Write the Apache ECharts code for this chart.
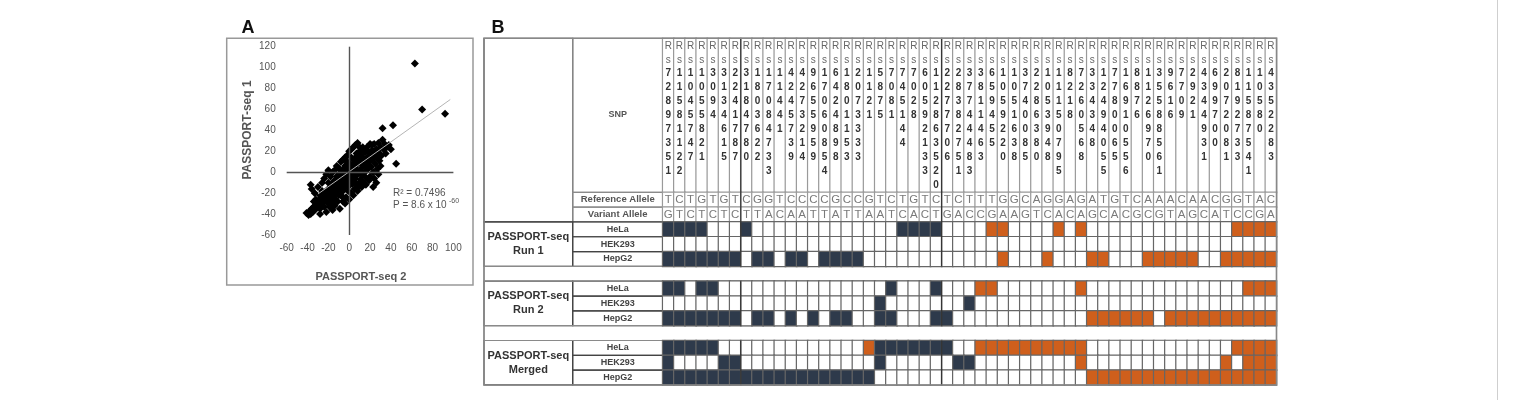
<!DOCTYPE html>
<html><head><meta charset="utf-8">
<script src="https://cdn.jsdelivr.net/npm/echarts@6.0.0/dist/echarts.min.js"></script>
<style>html,body{margin:0;padding:0;background:#fff}#c{width:1519px;height:400px}</style>
</head><body><div id="c"></div>
<script>
// ---------- Panel A data ----------
const scatterPoints = [
[-41,-39],[-39,-41],[-38,-37],[-37,-40],[-36,-35],[-35,-38],[-34,-33],[-33,-36],[-32,-31],[-31,-34],[-30,-29],[-29,-32],[-28,-27],[-28,-35],[-27,-24],[-26,-30],[-25,-22],[-24,-27],[-24,-33],[-23,-19],[-22,-25],[-21,-29],[-20,-16],[-20,-22],[-19,-33],[-18,-19],[-18,-26],[-17,-12],[-16,-22],[-16,-30],[-15,-17],[-14,-8],[-14,-25],[-13,-13],[-12,-20],[-12,-4],[-11,-28],[-10,-10],[-10,-16],[-9,-35],[-9,-1],[-8,-6],[-8,-22],[-7,-13],[-6,2],[-6,-18],[-6,-28],[-5,-8],[-4,-2],[-4,-14],[-4,6],[-3,-24],[-2,-10],[-2,2],[-1,-5],[-1,-18],[0,9],[0,-1],[0,-13],[1,-7],[1,4],[2,-20],[2,14],[3,-3],[3,-11],[4,7],[4,0],[5,-16],[5,11],[6,-6],[6,3],[7,18],[7,-11],[8,8],[8,-2],[9,13],[9,-14],[10,2],[10,20],[11,-7],[11,9],[12,15],[12,-3],[13,24],[13,5],[14,-10],[14,11],[15,19],[15,0],[16,7],[16,-5],[17,14],[17,24],[18,3],[18,20],[19,-8],[19,10],[20,16],[20,27],[21,5],[22,21],[22,12],[23,-14],[23,0],[24,17],[24,27],[25,8],[26,22],[26,14],[27,3],[28,19],[28,28],[29,11],[30,24],[31,16],[32,31],[32,42],[33,22],[34,27],[35,18],[36,24],[38,26],[40,22],[42,45],[45,8],[63,104],[70,60],[92,56],
[-30,-14],[-26,-10],[-24,-6],[-22,-2],[-20,2],[-18,-4],[-16,0],[-14,2],[-12,6],[-10,4],[-8,10],[-6,12],[-4,14],[-2,16],[0,20],[2,22],[4,24],[6,26],[8,28],[10,24],[-37,-12],[-36,-16],[-33,-20],
[-28,-40],[-22,-38],[-16,-36],[-14,-32],[-4,-30],[0,-26],[4,-22],[8,-18],[12,-14],[16,-12],[20,-4],[24,-6],[28,-2],[30,6],[26,-10],
[-8,-10],[-6,-4],[-2,-6],[2,-2],[4,-6],[6,-10],[-10,-6],[-12,-10],[-14,-14],[-4,0],[2,6],[8,2],[10,-10],[-16,-10],[-20,-10],[-18,-14],[-22,-18],[-26,-18],[-28,-22],[-32,-26],[-34,-28],[0,4],[-2,10],[6,14],[10,16],[14,20],[18,8],[22,26],[-6,-24],[-10,-22],[-14,-20]
];
const trendLine = [[-30,-20.8],[97,69.5]];
const statR2 = 'R² = 0.7496';
const statP = 'P = 8.6 x 10';
const statPExp = '-60';

// ---------- Panel B data ----------
const snpIds = ['rs72897351','rs11581122','rs1045747','rs1055821','rs3094','rs3134615','rs2241787','rs3184780','rs1803622','rs17084733',
'rs11441','rs4245739','rs4273214','rs9655959','rs17060854','rs6424898','rs1801153','rs2073333','rs1121','rs5875',
'rs7081','rs745144','rs7028','rs60592133','rs112863520','rs2277706','rs28382751','rs37744483','rs3811463','rs659455',
'rs1059220','rs1051638','rs3740085','rs2286380','rs1053948','rs11150795','rs8218','rs7260568','rs334348','rs12494055',
'rs7780065','rs16910556','rs8876','rs1126970','rs35588561','rs9616','rs7709','rs2921','rs4344931','rs699700',
'rs2072081','rs8192733','rs11587541','rs10580','rs4352283'];
const refAlleles = 'TCTGTGTCGGTCCCCGCCGTCTGTCTCTTTGGCAGGAGATGTCAAACAACGGTAC'.split('');
const varAlleles = 'GTCTCTCTTACAATTATTAATCACTGACCGAAGTCACAGCACGCGTAGCATCCGA'.split('');
const cellLines = ['HeLa','HEK293','HepG2'];
const groupNames = ['PASSPORT-seq\nRun 1','PASSPORT-seq\nRun 2','PASSPORT-seq\nMerged'];
// 0 = none, 1 = dark (blue), 2 = orange
const run1HeLa   = [1,1,1,1,0,0,0,1,0,0, 0,0,0,0,0,0,0,0,0,0, 0,1,1,1,1,0,0,0,0,2, 2,0,0,0,0,2,0,2,0,0, 0,0,0,0,0,0,0,0,0,0, 0,2,2,2,2];
const run1HEK293 = [0,0,0,0,0,0,0,0,0,0, 0,0,0,0,0,0,0,0,0,0, 0,0,0,0,0,0,0,0,0,0, 0,0,0,0,0,0,0,0,0,0, 0,0,0,0,0,0,0,0,0,0, 0,0,0,0,0];
const run1HepG2  = [1,1,1,1,1,1,1,0,1,1, 0,1,1,0,1,1,1,1,0,0, 0,0,0,0,0,0,0,0,0,0, 2,0,0,0,2,0,0,0,2,2, 0,0,0,2,2,2,2,2,0,0, 2,2,2,2,2];
const run2HeLa   = [1,1,0,1,1,0,0,0,0,0, 0,0,0,0,0,0,0,0,0,0, 1,0,0,0,1,0,0,0,2,2, 0,0,0,0,0,0,0,2,0,0, 0,0,0,0,0,0,0,0,0,0, 0,0,2,2,2];
const run2HEK293 = [0,0,0,0,0,0,0,0,0,0, 0,0,0,0,0,0,0,0,0,1, 0,0,0,0,0,0,0,1,0,0, 0,0,0,0,0,0,0,0,0,0, 0,0,0,0,0,0,0,0,0,0, 0,0,0,0,0];
const run2HepG2  = [1,1,1,1,1,1,1,0,1,1, 0,1,0,1,0,1,1,0,0,1, 1,0,0,0,1,1,0,0,0,0, 0,0,0,0,0,0,0,0,2,2, 2,2,2,2,0,2,2,2,2,2, 2,2,2,2,2];
const mergedHeLa   = [1,1,1,1,1,0,0,0,0,0, 0,0,0,0,0,0,0,0,2,1, 1,1,1,1,1,1,0,0,2,2, 2,2,2,2,2,2,2,2,0,0, 0,0,0,0,0,0,0,0,0,0, 0,2,2,2,2];
const mergedHEK293 = [1,0,0,0,0,1,1,0,0,0, 0,0,0,0,0,0,0,0,0,1, 0,0,0,0,0,0,1,1,0,0, 0,0,0,0,0,0,0,2,0,0, 0,0,0,0,0,0,0,0,0,0, 2,0,2,2,2];
const mergedHepG2  = [1,1,1,1,1,1,1,1,1,1, 1,1,1,1,1,1,1,1,1,0, 0,0,0,0,0,0,0,0,0,0, 0,0,0,0,0,0,0,0,2,2, 2,2,2,2,2,2,2,2,2,2, 2,2,2,2,2];

// ---------- layout (positions only) ----------
const FONT = '"Liberation Sans", Arial, sans-serif';
const T = {c1:484, c2:572.7, left:662.7, colW:11.16, top:38.3, headH:154, rowH:14.82, nRows:13};
T.right = T.left + snpIds.length * T.colW;
T.bodyTop = T.top + T.headH;
T.bottom = T.bodyTop + T.nRows * T.rowH;
const rowTop = i => T.bodyTop + i * T.rowH;

// body row layout: 0 ref,1 var,2-4 run1,5 gap,6-8 run2,9 gap,10-12 merged
const bodyRowKeys = ['ref','var','r1a','r1b','r1c','g1','r2a','r2b','r2c','g2','r3a','r3b','r3c'];
const statusRows = [[2,run1HeLa],[3,run1HEK293],[4,run1HepG2],[6,run2HeLa],[7,run2HEK293],[8,run2HepG2],[10,mergedHeLa],[11,mergedHEK293],[12,mergedHepG2]];

const headerData = snpIds.map((_, i) => [i, 0, 0]);
const alleleData = [];
snpIds.forEach((_, i) => { alleleData.push([i, 0, 0]); alleleData.push([i, 1, 0]); });
const statusData = [];
statusRows.forEach(([r, arr]) => arr.forEach((v, i) => statusData.push([i, r, v])));

const headerFormatter = p => {
  const id = snpIds[p.data[0]];
  return id.split('').map((ch, k) => k === 0 ? '{r|R}' : k === 1 ? '{r|s}' : '{d|' + ch + '}').join('\n');
};

// ---------- graphics for table label columns ----------
const g = [];
const gray = '#8a8a8a', dark = '#444';
function rect(x, y, w, h, stroke, lw, z) {
  g.push({type:'rect', z: z || 1, shape:{x, y, width:w, height:h}, style:{fill:'none', stroke, lineWidth: lw || 1}});
}
function text(t, x, y, font, fill, extra) {
  g.push(Object.assign({type:'text', z: 10, style:Object.assign({text:t, x, y, font, fill, align:'center', verticalAlign:'middle'}, extra || {})}));
}
rect(T.c1, T.top, T.c2 - T.c1, rowTop(2) - T.top, dark, 1.2);
rect(T.c2, T.top, T.left - T.c2, T.headH, gray, 1.2);
rect(T.c2, rowTop(0), T.left - T.c2, T.rowH, gray, 1.2);
rect(T.c2, rowTop(1), T.left - T.c2, T.rowH, gray, 1.2);
text('SNP', (T.c2 + T.left) / 2, 115, 'bold 9px ' + FONT, '#555');
text('Reference Allele', (T.c2 + T.left) / 2, rowTop(0) + T.rowH / 2, 'bold 9.5px ' + FONT, '#555');
text('Variant Allele', (T.c2 + T.left) / 2, rowTop(1) + T.rowH / 2, 'bold 9.5px ' + FONT, '#555');
[2, 6, 10].forEach((s, b) => {
  rect(T.c1, rowTop(s), T.c2 - T.c1, 3 * T.rowH, dark, 1.2);
  text(groupNames[b], (T.c1 + T.c2) / 2, rowTop(s) + 1.5 * T.rowH, 'bold 11px ' + FONT, '#333', {lineHeight: 14});
  cellLines.forEach((n, k) => {
    rect(T.c2, rowTop(s + k), T.left - T.c2, T.rowH, dark, 1.2);
    text(n, (T.c2 + T.left) / 2, rowTop(s + k) + T.rowH / 2, 'bold 9px ' + FONT, '#444');
  });
});
[5, 9].forEach(r => rect(T.c1, rowTop(r), T.right - T.c1, T.rowH, gray, 1.2));
[7, 25].forEach(c => {
  const x = T.left + c * T.colW;
  [[T.top, rowTop(5)], [rowTop(6), rowTop(9)], [rowTop(10), T.bottom]].forEach(([y1, y2]) =>
    g.push({type:'line', z: 20, shape:{x1:x, y1, x2:x, y2}, style:{stroke:'#333', lineWidth:1.3}}));
});
rect(T.c1, T.top, T.right - T.c1, T.bottom - T.top, '#888', 1.5, 30);
rect(226.7, 38.3, 246.3, 246.7, '#999', 1.5);
text('A', 248, 28, 'bold 18px ' + FONT, '#111');
text('B', 498, 28.5, 'bold 18px ' + FONT, '#111');
text(statR2, 393, 193, '10px ' + FONT, '#555', {align:'left'});
text(statP, 393, 205.5, '10px ' + FONT, '#555', {align:'left'});
text(statPExp, 449, 201, '7px ' + FONT, '#555', {align:'left'});
text('PASSPORT-seq 2', 361, 277, 'bold 11px ' + FONT, '#555');
g.push({type:'text', z:10, x:248, y:130, rotation:Math.PI/2, style:{text:'PASSPORT-seq 1', x:0, y:0, font:'bold 12px ' + FONT, fill:'#555', align:'center', verticalAlign:'middle'}});
g.push({type:'line', z:1, shape:{x1:1497.5, y1:0, x2:1497.5, y2:400}, style:{stroke:'#cfcfcf', lineWidth:1}});

const chart = echarts.init(document.getElementById('c'), null, {renderer:'canvas'});
chart.setOption({
  animation: false,
  backgroundColor: '#fff',
  textStyle: {fontFamily: FONT},
  grid: [
    {left:286.7, top:46.7, width:166.7, height:188.3, outerBoundsMode:'none', containLabel:false},
    {left:T.left, top:T.top, width:T.right - T.left, height:T.headH, outerBoundsMode:'none', containLabel:false},
    {left:T.left, top:T.bodyTop, width:T.right - T.left, height:T.bottom - T.bodyTop, outerBoundsMode:'none', containLabel:false}
  ],
  xAxis: [
    {type:'value', gridIndex:0, min:-60, max:100, interval:20, axisLine:{show:false}, axisTick:{show:false}, splitLine:{show:false},
     axisLabel:{fontSize:10, color:'#555', margin:8, fontFamily:FONT}},
    {type:'category', gridIndex:1, data:snpIds, show:false},
    {type:'category', gridIndex:2, data:snpIds, show:false}
  ],
  yAxis: [
    {type:'value', gridIndex:0, min:-60, max:120, interval:20, axisLine:{show:false}, axisTick:{show:false}, splitLine:{show:false},
     axisLabel:{fontSize:10, color:'#555', margin:11, fontFamily:FONT}},
    {type:'category', gridIndex:1, data:['SNP'], show:false},
    {type:'category', gridIndex:2, data:bodyRowKeys, inverse:true, show:false}
  ],
  visualMap: {type:'piecewise', show:false, dimension:2, seriesIndex:[2,3,4],
    pieces:[{value:0, color:'#ffffff'}, {value:1, color:'#2e3a4b'}, {value:2, color:'#cf5f1c'}]},
  series: [
    {type:'line', xAxisIndex:0, yAxisIndex:0, data:trendLine, symbol:'none', silent:true,
     lineStyle:{color:'#b5b5b5', width:1}},
    {type:'scatter', xAxisIndex:0, yAxisIndex:0, data:scatterPoints, symbol:'diamond', symbolSize:8,
     itemStyle:{color:'#000', opacity:1, borderWidth:0}, silent:true,
     markLine:{silent:true, symbol:'none', label:{show:false}, lineStyle:{color:'#555', width:1.4, type:'solid'},
       data:[{xAxis:0}, {yAxis:0}]}},
    {type:'heatmap', xAxisIndex:1, yAxisIndex:1, data:headerData, silent:true,
     itemStyle:{borderColor:'#9a9a9a', borderWidth:1.2},
     label:{show:true, position:'insideTop', distance:1.5, formatter:headerFormatter, lineHeight:13.9,
       rich:{r:{fontSize:10, color:'#666', lineHeight:13.9, fontFamily:FONT},
             d:{fontSize:10, fontWeight:'bold', color:'#333', lineHeight:13.9, fontFamily:FONT}}},
     emphasis:{disabled:true}},
    {type:'heatmap', xAxisIndex:2, yAxisIndex:2, data:alleleData, silent:true,
     itemStyle:{borderColor:'#9a9a9a', borderWidth:1.2},
     label:{show:true, fontSize:11.5, color:'#7a7a7a', fontFamily:FONT,
       formatter:p => (p.data[1] === 0 ? refAlleles : varAlleles)[p.data[0]]},
     emphasis:{disabled:true}},
    {type:'heatmap', xAxisIndex:2, yAxisIndex:2, data:statusData, silent:true,
     itemStyle:{borderColor:'#666', borderWidth:1.2},
     label:{show:false}, emphasis:{disabled:true}}
  ],
  graphic: g
});
</script></body></html>
